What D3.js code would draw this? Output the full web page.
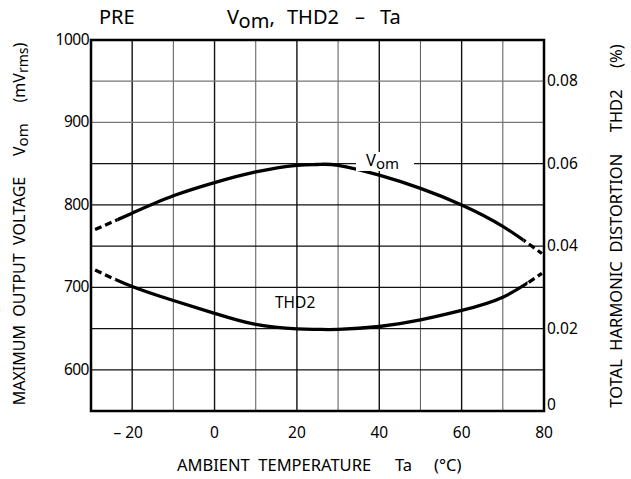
<!DOCTYPE html>
<html>
<head>
<meta charset="utf-8">
<script src="https://cdn.jsdelivr.net/npm/d3@7"></script>
<style>
  html, body { margin: 0; padding: 0; background: #fff; }
  svg { display: block; font-family: "Noto Sans", "Open Sans", sans-serif; }
</style>
</head>
<body>
<svg id="chart" width="631" height="479"></svg>
<script>
// Ambient temperature (°C) sample points
const temps = [-29, -20, -10, 0, 10, 20, 25, 30, 40, 50, 60, 70, 79.5];
// Maximum output voltage Vom (mVrms)
const vomValues = [770, 790, 811, 827, 840, 848, 849, 848, 836, 820, 800, 774, 741];
// Second harmonic distortion THD2 (%)
const thdValues = [0.0342, 0.0302, 0.0268, 0.0237, 0.021, 0.0199, 0.0198, 0.0198, 0.0205, 0.0221, 0.0244, 0.0276, 0.0334];

// Measured range (solid); outside this the curves are extrapolated (dashed)
const vomSolid = [-23.5, 75];
const thdSolid = [-24, 76];

const xTicks = [-20, 0, 20, 40, 60, 80];
const xTickLabels = ["\u2013 20", "0", "20", "40", "60", "80"];
const vomTicks = [600, 700, 800, 900, 1000];
const thdTicks = [0, 0.02, 0.04, 0.06, 0.08];
const thdTickLabels = ["0", "0.02", "0.04", "0.06", "0.08"];

const svg = d3.select("#chart");
const L = 91, R = 544, T = 40, B = 411;

const x = d3.scaleLinear().domain([-30, 80]).range([L, R]);
const yV = d3.scaleLinear().domain([550, 1000]).range([B, T]);
const yT = d3.scaleLinear().domain([0, 0.09]).range([B, T]);

// Grid
const grid = svg.append("g");
d3.range(-20, 80, 10).forEach(t => {
  const major = t % 20 === 0;
  grid.append("line")
    .attr("x1", x(t)).attr("x2", x(t)).attr("y1", T).attr("y2", B)
    .attr("stroke", major ? "#111" : "#666")
    .attr("stroke-width", major ? 1.4 : 1.1);
});
d3.range(600, 1000, 50).forEach(v => {
  grid.append("line")
    .attr("x1", L).attr("x2", R).attr("y1", yV(v)).attr("y2", yV(v))
    .attr("stroke", v >= 900 ? "#777" : "#111")
    .attr("stroke-width", 1.3);
});

// Clip regions for solid / dashed parts
const defs = svg.append("defs");
function addClip(id, x0, x1) {
  defs.append("clipPath").attr("id", id)
    .append("rect").attr("x", x0).attr("y", 0).attr("width", x1 - x0).attr("height", 479);
}
addClip("vomSolidClip", x(vomSolid[0]), x(vomSolid[1]));
addClip("vomDashL", 0, x(vomSolid[0]));
addClip("vomDashR", x(vomSolid[1]), 631);
addClip("thdSolidClip", x(thdSolid[0]), x(thdSolid[1]));
addClip("thdDashL", 0, x(thdSolid[0]));
addClip("thdDashR", x(thdSolid[1]), 631);

const vomLine = d3.line().curve(d3.curveNatural)
  .x((d, i) => x(temps[i])).y(d => yV(d));
const thdLine = d3.line().curve(d3.curveNatural)
  .x((d, i) => x(temps[i])).y(d => yT(d));

function drawCurve(values, gen, solidClip, dashL, dashR) {
  const g = svg.append("g");
  const d = gen(values);
  g.append("path").attr("d", d).attr("clip-path", `url(#${solidClip})`)
    .attr("fill", "none").attr("stroke", "#000").attr("stroke-width", 3.3);
  [dashL, dashR].forEach(c => {
    g.append("path").attr("d", d).attr("clip-path", `url(#${c})`)
      .attr("fill", "none").attr("stroke", "#000").attr("stroke-width", 3.3)
      .attr("stroke-dasharray", "7,4");
  });
}
drawCurve(vomValues, vomLine, "vomSolidClip", "vomDashL", "vomDashR");
drawCurve(thdValues, thdLine, "thdSolidClip", "thdDashL", "thdDashR");

// Frame
svg.append("rect").attr("x", L).attr("y", T).attr("width", R - L).attr("height", B - T)
  .attr("fill", "none").attr("stroke", "#000").attr("stroke-width", 2.5);

// Tick labels
const fs = 15.5;
vomTicks.forEach(v => {
  svg.append("text").attr("x", L - 2).attr("y", yV(v) + 5)
    .attr("text-anchor", "end").attr("font-size", fs).attr("letter-spacing", -0.5).text(v);
});
thdTicks.forEach((v, i) => {
  svg.append("text").attr("x", R + 3).attr("y", v === 0 ? yT(v) - 1 : yT(v) + 5)
    .attr("font-size", fs).text(thdTickLabels[i]);
});
xTicks.forEach((t, i) => {
  svg.append("text").attr("x", x(t) + (t < 0 ? -4 : 0)).attr("y", 438)
    .attr("text-anchor", "middle").attr("font-size", fs).text(xTickLabels[i]);
});

// Curve labels
const vomLab = svg.append("g");
vomLab.append("rect").attr("x", 356).attr("y", 152).attr("width", 58).attr("height", 19).attr("fill", "#fff");
const vt = vomLab.append("text").attr("x", 366).attr("y", 166).attr("font-size", 16.5);
vt.append("tspan").text("V");
vt.append("tspan").attr("font-size", 15).attr("dy", 3).text("om");

svg.append("text").attr("x", 275).attr("y", 308).attr("font-size", 15.5).text("THD2");

// Title
const tfs = 20;
svg.append("text").attr("x", 99).attr("y", 24).attr("font-size", tfs).text("PRE");
const title = svg.append("text").attr("x", 227).attr("y", 24).attr("font-size", tfs);
title.append("tspan").text("V");
title.append("tspan").attr("font-size", 20).attr("dy", 4).text("om");
title.append("tspan").attr("dy", -4).text(",");
svg.append("text").attr("x", 287).attr("y", 24).attr("font-size", tfs).text("THD2");
svg.append("text").attr("x", 355).attr("y", 24).attr("font-size", tfs).text("\u2013");
svg.append("text").attr("x", 380).attr("y", 24).attr("font-size", tfs).text("Ta");

// Axis titles
const xfs = 16.5;
svg.append("text").attr("x", 177).attr("y", 471).attr("font-size", xfs)
  .attr("xml:space", "preserve").text("AMBIENT  TEMPERATURE");
svg.append("text").attr("x", 395).attr("y", 471).attr("font-size", xfs).text("Ta");
svg.append("text").attr("x", 434).attr("y", 471).attr("font-size", xfs).text("(\u00b0C)");

const ly = svg.append("text").attr("transform", "translate(25,224) rotate(-90)")
  .attr("text-anchor", "middle").attr("font-size", 16).attr("xml:space", "preserve");
ly.append("tspan").text("MAXIMUM  OUTPUT  VOLTAGE     V");
ly.append("tspan").attr("font-size", 15).attr("dy", 3).text("om");
ly.append("tspan").attr("dy", -3).text("     (mV");
ly.append("tspan").attr("font-size", 14).attr("dy", 3).text("rms");
ly.append("tspan").attr("dy", -3).text(")");

svg.append("text").attr("transform", "translate(622,226) rotate(-90)")
  .attr("text-anchor", "middle").attr("font-size", 16.5).attr("xml:space", "preserve")
  .text("TOTAL  HARMONIC  DISTORTION     THD2     (%)");
</script>
</body>
</html>
